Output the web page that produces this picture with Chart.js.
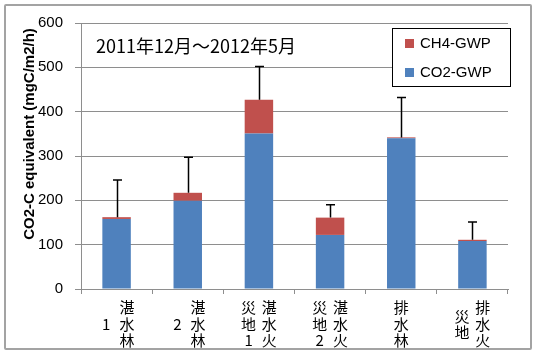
<!DOCTYPE html>
<html><head><meta charset="utf-8">
<script src="https://cdn.jsdelivr.net/npm/chart.js@4"></script>
<style>
html,body{margin:0;padding:0;background:#fff;}
#wrap{position:relative;width:535px;height:352px;}
#frame{position:absolute;left:4px;top:4px;width:524px;height:342px;border:2px solid #a3a3a3;border-radius:2px;pointer-events:none;}
</style>
</head><body>
<div id="wrap"><canvas id="c" width="535" height="352"></canvas><div id="frame"></div></div>
<script>
const categories = ["湛水林1","湛水林2","湛水火災地1","湛水火災地2","排水林","排水火災地"];
// vertical label columns, listed right-to-left (as read in vertical Japanese)
const labelColumns = [["湛水林","1"],["湛水林","2"],["湛水火","災地1"],["湛水火","災地2"],["排水林"],["排水火","災地"]];
const co2Values = [158,199,351,122,340,108];
const ch4Values = [4,18,76,39,2,3];
const errorValues = [84,80,75,29,90,40];
const yTicks = [0,100,200,300,400,500,600];
const seriesNames = ["CO2-GWP","CH4-GWP"];
const seriesColors = ["#4F81BD","#C0504D"];
const periodText = "2011年12月～2012年5月";
const yTitle = "CO2-C equivalent (mgC/m2/h)";

const GRID = "#8e8e8e";
const CJK = "'Noto Sans CJK JP', sans-serif";

const extras = {
  id: 'extras',
  afterDatasetsDraw(chart) {
    const ctx = chart.ctx, xs = chart.scales.x, ys = chart.scales.y;
    ctx.save();
    ctx.strokeStyle = "#000";
    ctx.lineWidth = 1.5;
    categories.forEach((c, i) => {
      const total = co2Values[i] + ch4Values[i];
      const x = Math.round(xs.getPixelForValue(i)) + 0.5;
      const y0 = ys.getPixelForValue(total);
      const y1 = ys.getPixelForValue(total + errorValues[i]);
      ctx.beginPath();
      ctx.moveTo(x, y0); ctx.lineTo(x, y1);
      ctx.moveTo(x - 4.5, y1); ctx.lineTo(x + 4.5, y1);
      ctx.stroke();
    });
    ctx.restore();
  },
  afterDraw(chart) {
    const ctx = chart.ctx, xs = chart.scales.x, area = chart.chartArea;
    ctx.save();
    // legend box
    const bx = 392, by = 28, bw = 118, bh = 58;
    ctx.fillStyle = "#fff";
    ctx.fillRect(bx, by, bw, bh);
    ctx.strokeStyle = "#000";
    ctx.lineWidth = 1;
    ctx.strokeRect(bx + 0.5, by + 0.5, bw, bh);
    ctx.font = "15px 'Liberation Sans', Arial, sans-serif";
    ctx.textBaseline = "middle";
    ctx.textAlign = "left";
    const order = [1, 0];
    order.forEach((d, k) => {
      const cy = 43 + k * 29;
      ctx.fillStyle = seriesColors[d];
      ctx.fillRect(405, cy - 4, 9, 9);
      ctx.fillStyle = "#000";
      ctx.fillText(seriesNames[d], 420, cy + 1);
    });
    // period annotation
    ctx.font = "18px " + CJK;
    ctx.fillStyle = "#000";
    ctx.textAlign = "left";
    ctx.fillText(periodText, 96, 46);
    // y axis title
    ctx.save();
    ctx.translate(30, 134);
    ctx.rotate(-Math.PI / 2);
    ctx.font = "bold 15px 'Liberation Sans', Arial, sans-serif";
    ctx.textAlign = "center";
    ctx.fillText(yTitle, 0, 0);
    ctx.restore();
    // x category labels (vertical columns)
    ctx.font = "15px " + CJK;
    ctx.textAlign = "center";
    ctx.textBaseline = "middle";
    const colPitch = 20.6, rowPitch = 16.3, midY = 324;
    labelColumns.forEach((cols, i) => {
      const xc = xs.getPixelForValue(i);
      const n = cols.length;
      cols.forEach((col, k) => {
        const cx = xc + ((n - 1) / 2 - k) * colPitch;
        const chars = Array.from(col);
        const m = chars.length;
        chars.forEach((ch, j) => {
          ctx.fillText(ch, cx, midY + (j - (m - 1) / 2) * rowPitch);
        });
      });
    });
    ctx.restore();
  }
};

new Chart(document.getElementById('c'), {
  type: 'bar',
  data: {
    labels: categories,
    datasets: [
      { label: seriesNames[0], data: co2Values, backgroundColor: seriesColors[0], borderWidth: 0 },
      { label: seriesNames[1], data: ch4Values, backgroundColor: seriesColors[1], borderWidth: 0 }
    ]
  },
  options: {
    responsive: false,
    animation: false,
    devicePixelRatio: 1,
    layout: { padding: { left: 0, right: 27, top: 23, bottom: 0 } },
    plugins: { legend: { display: false }, tooltip: { enabled: false } },
    datasets: { bar: { categoryPercentage: 1, barPercentage: 0.4 } },
    scales: {
      x: {
        stacked: true,
        offset: true,
        grid: { offset: true, drawOnChartArea: false, drawTicks: true, tickLength: 5, color: GRID, lineWidth: 1 },
        border: { color: GRID, width: 1 },
        ticks: { display: false },
        afterFit: s => { s.height = 63; }
      },
      y: {
        stacked: true,
        min: 0, max: 600,
        afterBuildTicks: s => { s.ticks = yTicks.map(v => ({ value: v })); },
        grid: { color: GRID, lineWidth: 1, drawTicks: true, tickLength: 6 },
        border: { color: GRID, width: 1 },
        ticks: { padding: 12, color: "#000", font: { family: "'Liberation Sans', Arial, sans-serif", size: 15 } },
        afterFit: s => { s.width = 81; }
      }
    }
  },
  plugins: [extras]
});
</script>
</body></html>
